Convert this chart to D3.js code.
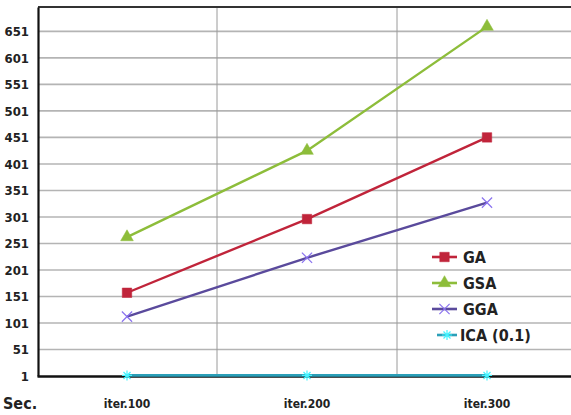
<!DOCTYPE html>
<html>
<head>
<meta charset="utf-8">
<script src="https://cdn.jsdelivr.net/npm/d3@7"></script>
<style>
body { margin: 0; background: #fff; }
text { font-family: "DejaVu Sans Condensed", "DejaVu Sans", sans-serif; font-weight: bold; }
</style>
</head>
<body>
<div id="chart"></div>
<script>
var categories = ["iter.100", "iter.200", "iter.300"];
var yTicks = [1, 51, 101, 151, 201, 251, 301, 351, 401, 451, 501, 551, 601, 651];
var seriesNames = ["GA", "GSA", "GGA", "ICA (0.1)"];
var gaValues = [158, 297, 451];
var gsaValues = [263, 426, 660];
var ggaValues = [113, 224, 328];
var icaValues = [2, 2, 2];

var colors = ["#c0243a", "#8dbd3a", "#5a4a9c", "#2b9fb8"];
var allValues = [gaValues, gsaValues, ggaValues, icaValues];

var W = 571, H = 415;
var svg = d3.select("#chart").append("svg")
    .attr("width", W)
    .attr("height", H);

var x = d3.scaleBand().domain(categories).range([37, 577]);
var y = d3.scaleLinear().domain([1, 697]).range([376, 7]);

// grid horizontal
svg.selectAll(".hgrid").data(yTicks.slice(1)).enter().append("line")
    .attr("x1", 38).attr("x2", W)
    .attr("y1", d => y(d)).attr("y2", d => y(d))
    .attr("stroke", "#b4b4b4")
    .attr("stroke-width", 1.6);

// grid vertical (band edges)
svg.selectAll(".vgrid").data(categories.slice(1)).enter().append("line")
    .attr("x1", d => x(d)).attr("x2", d => x(d))
    .attr("y1", 7).attr("y2", 376)
    .attr("stroke", "#9a9a9a")
    .attr("stroke-width", 1);

// top border
svg.append("line")
    .attr("x1", 38).attr("x2", W)
    .attr("y1", 7).attr("y2", 7)
    .attr("stroke", "#333")
    .attr("stroke-width", 1.8);

// y axis
var yAxis = svg.append("g")
    .attr("transform", "translate(38,0)")
    .call(d3.axisLeft(y).tickValues(yTicks).tickSize(0).tickPadding(9));
yAxis.select(".domain").attr("stroke", "#111").attr("stroke-width", 2.2);
yAxis.selectAll("text").attr("font-size", "13px").attr("fill", "#222")
    .attr("font-family", "DejaVu Sans Condensed, sans-serif");

// x axis
var xAxis = svg.append("g")
    .attr("transform", "translate(0,376)")
    .call(d3.axisBottom(x).tickSize(0).tickPadding(23));
xAxis.select(".domain").attr("stroke", "#111").attr("stroke-width", 2.4);
xAxis.selectAll("text").attr("font-size", "12px").attr("fill", "#222")
    .attr("font-family", "DejaVu Sans Condensed, sans-serif");

svg.append("text")
    .attr("x", 3).attr("y", 409)
    .attr("font-size", "16px")
    .attr("fill", "#222")
    .text("Sec.");

var cx = d => x(d) + x.bandwidth() / 2;
var line = d3.line().x(d => cx(d.c)).y(d => y(d.v));

function symbolPath(i) {
    if (i === 0) return d3.symbol().type(d3.symbolSquare).size(90)();
    if (i === 1) return d3.symbol().type(d3.symbolTriangle).size(70)();
    if (i === 2) return d3.symbol().type(d3.symbolX).size(70)();
    return "M-5,0L5,0M0,-5L0,5M-3.5,-3.5L3.5,3.5M-3.5,3.5L3.5,-3.5";
}

allValues.forEach(function (vals, i) {
    var pts = vals.map((v, k) => ({ c: categories[k], v: v }));
    svg.append("path")
        .datum(pts)
        .attr("d", line)
        .attr("fill", "none")
        .attr("stroke", colors[i])
        .attr("stroke-width", i === 3 ? 2.8 : 2.4);
    svg.selectAll(".m" + i).data(pts).enter().append("path")
        .attr("transform", d => "translate(" + cx(d.c) + "," + y(d.v) + ")")
        .attr("d", symbolPath(i))
        .attr("fill", i < 2 ? colors[i] : "none")
        .attr("stroke", i < 2 ? colors[i] : d3.color(colors[i]).brighter(1.2))
        .attr("stroke-width", i < 2 ? 0.5 : 1.2);
});

// legend
var legend = svg.append("g");
seriesNames.forEach(function (name, i) {
    var ly = 257 + i * 26;
    var lx0 = i === 3 ? 437 : 432;
    legend.append("line")
        .attr("x1", lx0).attr("x2", 457)
        .attr("y1", ly).attr("y2", ly)
        .attr("stroke", colors[i])
        .attr("stroke-width", 2.6);
    legend.append("path")
        .attr("transform", "translate(" + (lx0 + 457) / 2 + "," + ly + ")")
        .attr("d", symbolPath(i))
        .attr("fill", i < 2 ? colors[i] : "none")
        .attr("stroke", i < 2 ? colors[i] : d3.color(colors[i]).brighter(1.2))
        .attr("stroke-width", i < 2 ? 0.5 : 1.2);
    legend.append("text")
        .attr("x", i === 3 ? 460 : 463)
        .attr("y", ly + 6)
        .attr("font-size", "16px")
        .attr("fill", "#222")
        .text(name);
});
</script>
</body>
</html>
